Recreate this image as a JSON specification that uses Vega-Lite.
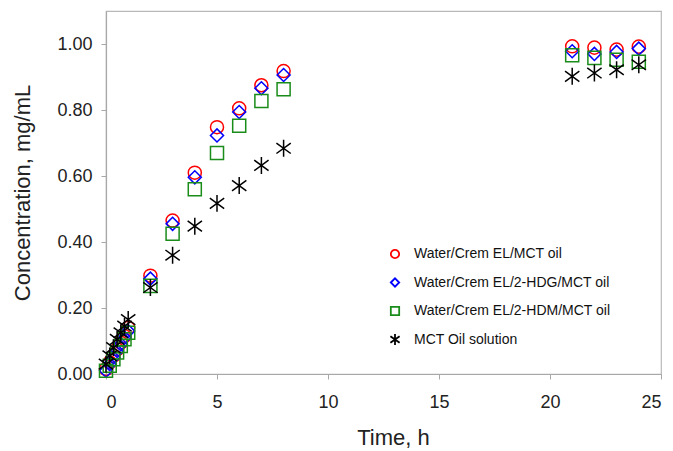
{
  "$schema": "https://vega.github.io/schema/vega-lite/v6.json",
  "autosize": "none",
  "width": 555,
  "height": 363,
  "padding": {"left": 106, "top": 11, "right": 12, "bottom": 77},
  "background": "white",
  "config": {
    "font": "Liberation Sans",
    "view": {"stroke": "#b8b8b8", "strokeWidth": 1.2},
    "axis": {
      "grid": false,
      "domainColor": "#a8a8a8",
      "domainWidth": 1.2,
      "tickColor": "#a8a8a8",
      "tickSize": 5,
      "labelFont": "Liberation Sans",
      "labelFontSize": 18,
      "labelColor": "#222222",
      "titleFont": "Liberation Sans",
      "titleFontSize": 22,
      "titleFontWeight": "normal",
      "titleColor": "#222222"
    }
  },
  "data": {
    "values": [
      {"t": 0, "c": 0.015, "s": "Water/Crem EL/MCT oil"},
      {"t": 0.167, "c": 0.035, "s": "Water/Crem EL/MCT oil"},
      {"t": 0.333, "c": 0.055, "s": "Water/Crem EL/MCT oil"},
      {"t": 0.5, "c": 0.075, "s": "Water/Crem EL/MCT oil"},
      {"t": 0.667, "c": 0.095, "s": "Water/Crem EL/MCT oil"},
      {"t": 0.833, "c": 0.115, "s": "Water/Crem EL/MCT oil"},
      {"t": 1, "c": 0.14, "s": "Water/Crem EL/MCT oil"},
      {"t": 2, "c": 0.298, "s": "Water/Crem EL/MCT oil"},
      {"t": 3, "c": 0.465, "s": "Water/Crem EL/MCT oil"},
      {"t": 4, "c": 0.61, "s": "Water/Crem EL/MCT oil"},
      {"t": 5, "c": 0.748, "s": "Water/Crem EL/MCT oil"},
      {"t": 6, "c": 0.805, "s": "Water/Crem EL/MCT oil"},
      {"t": 7, "c": 0.875, "s": "Water/Crem EL/MCT oil"},
      {"t": 8, "c": 0.918, "s": "Water/Crem EL/MCT oil"},
      {"t": 21, "c": 0.993, "s": "Water/Crem EL/MCT oil"},
      {"t": 22, "c": 0.989, "s": "Water/Crem EL/MCT oil"},
      {"t": 23, "c": 0.983, "s": "Water/Crem EL/MCT oil"},
      {"t": 24, "c": 0.992, "s": "Water/Crem EL/MCT oil"},
      {"t": 0, "c": 0.01, "s": "Water/Crem EL/2-HDG/MCT oil"},
      {"t": 0.167, "c": 0.03, "s": "Water/Crem EL/2-HDG/MCT oil"},
      {"t": 0.333, "c": 0.05, "s": "Water/Crem EL/2-HDG/MCT oil"},
      {"t": 0.5, "c": 0.07, "s": "Water/Crem EL/2-HDG/MCT oil"},
      {"t": 0.667, "c": 0.09, "s": "Water/Crem EL/2-HDG/MCT oil"},
      {"t": 0.833, "c": 0.11, "s": "Water/Crem EL/2-HDG/MCT oil"},
      {"t": 1, "c": 0.13, "s": "Water/Crem EL/2-HDG/MCT oil"},
      {"t": 2, "c": 0.289, "s": "Water/Crem EL/2-HDG/MCT oil"},
      {"t": 3, "c": 0.455, "s": "Water/Crem EL/2-HDG/MCT oil"},
      {"t": 4, "c": 0.596, "s": "Water/Crem EL/2-HDG/MCT oil"},
      {"t": 5, "c": 0.723, "s": "Water/Crem EL/2-HDG/MCT oil"},
      {"t": 6, "c": 0.794, "s": "Water/Crem EL/2-HDG/MCT oil"},
      {"t": 7, "c": 0.866, "s": "Water/Crem EL/2-HDG/MCT oil"},
      {"t": 8, "c": 0.906, "s": "Water/Crem EL/2-HDG/MCT oil"},
      {"t": 21, "c": 0.978, "s": "Water/Crem EL/2-HDG/MCT oil"},
      {"t": 22, "c": 0.97, "s": "Water/Crem EL/2-HDG/MCT oil"},
      {"t": 23, "c": 0.976, "s": "Water/Crem EL/2-HDG/MCT oil"},
      {"t": 24, "c": 0.986, "s": "Water/Crem EL/2-HDG/MCT oil"},
      {"t": 0, "c": 0.01, "s": "Water/Crem EL/2-HDM/MCT oil"},
      {"t": 0.167, "c": 0.025, "s": "Water/Crem EL/2-HDM/MCT oil"},
      {"t": 0.333, "c": 0.045, "s": "Water/Crem EL/2-HDM/MCT oil"},
      {"t": 0.5, "c": 0.065, "s": "Water/Crem EL/2-HDM/MCT oil"},
      {"t": 0.667, "c": 0.085, "s": "Water/Crem EL/2-HDM/MCT oil"},
      {"t": 0.833, "c": 0.105, "s": "Water/Crem EL/2-HDM/MCT oil"},
      {"t": 1, "c": 0.125, "s": "Water/Crem EL/2-HDM/MCT oil"},
      {"t": 2, "c": 0.267, "s": "Water/Crem EL/2-HDM/MCT oil"},
      {"t": 3, "c": 0.425, "s": "Water/Crem EL/2-HDM/MCT oil"},
      {"t": 4, "c": 0.56, "s": "Water/Crem EL/2-HDM/MCT oil"},
      {"t": 5, "c": 0.67, "s": "Water/Crem EL/2-HDM/MCT oil"},
      {"t": 6, "c": 0.752, "s": "Water/Crem EL/2-HDM/MCT oil"},
      {"t": 7, "c": 0.827, "s": "Water/Crem EL/2-HDM/MCT oil"},
      {"t": 8, "c": 0.863, "s": "Water/Crem EL/2-HDM/MCT oil"},
      {"t": 21, "c": 0.966, "s": "Water/Crem EL/2-HDM/MCT oil"},
      {"t": 22, "c": 0.958, "s": "Water/Crem EL/2-HDM/MCT oil"},
      {"t": 23, "c": 0.952, "s": "Water/Crem EL/2-HDM/MCT oil"},
      {"t": 24, "c": 0.946, "s": "Water/Crem EL/2-HDM/MCT oil"},
      {"t": 0, "c": 0.03, "s": "MCT Oil solution"},
      {"t": 0.167, "c": 0.055, "s": "MCT Oil solution"},
      {"t": 0.333, "c": 0.08, "s": "MCT Oil solution"},
      {"t": 0.5, "c": 0.105, "s": "MCT Oil solution"},
      {"t": 0.667, "c": 0.125, "s": "MCT Oil solution"},
      {"t": 0.833, "c": 0.145, "s": "MCT Oil solution"},
      {"t": 1, "c": 0.165, "s": "MCT Oil solution"},
      {"t": 2, "c": 0.262, "s": "MCT Oil solution"},
      {"t": 3, "c": 0.36, "s": "MCT Oil solution"},
      {"t": 4, "c": 0.448, "s": "MCT Oil solution"},
      {"t": 5, "c": 0.517, "s": "MCT Oil solution"},
      {"t": 6, "c": 0.571, "s": "MCT Oil solution"},
      {"t": 7, "c": 0.632, "s": "MCT Oil solution"},
      {"t": 8, "c": 0.684, "s": "MCT Oil solution"},
      {"t": 21, "c": 0.902, "s": "MCT Oil solution"},
      {"t": 22, "c": 0.912, "s": "MCT Oil solution"},
      {"t": 23, "c": 0.922, "s": "MCT Oil solution"},
      {"t": 24, "c": 0.937, "s": "MCT Oil solution"}
    ]
  },
  "mark": {"type": "point", "filled": false, "strokeWidth": 1.5, "opacity": 1, "size": 170},
  "encoding": {
    "x": {
      "field": "t", "type": "quantitative",
      "scale": {"domain": [0, 25], "nice": false, "zero": false},
      "axis": {"title": "Time, h", "values": [0, 5, 10, 15, 20, 25], "labelPadding": 14, "titlePadding": 16, "titleX": 287}
    },
    "y": {
      "field": "c", "type": "quantitative",
      "scale": {"domain": [0, 1.1], "nice": false},
      "axis": {"title": "Concentration, mg/mL", "values": [0, 0.2, 0.4, 0.6, 0.8, 1.0], "format": ".2f", "labelPadding": 9, "titlePadding": 22}
    },
    "color": {
      "field": "s", "type": "nominal",
      "scale": {
        "domain": ["Water/Crem EL/MCT oil", "Water/Crem EL/2-HDG/MCT oil", "Water/Crem EL/2-HDM/MCT oil", "MCT Oil solution"],
        "range": ["#ff0000", "#0000ff", "#1a8c1a", "#000000"]
      },
      "legend": {
        "title": null,
        "orient": "none",
        "legendX": 282,
        "legendY": 236,
        "padding": 0,
        "labelFont": "Liberation Sans",
        "labelFontSize": 14,
        "labelColor": "#111111",
        "labelLimit": 400,
        "labelOffset": 12,
        "clipHeight": 14,
        "rowPadding": 14.5,
        "symbolSize": 70,
        "symbolStrokeWidth": 1.8
      }
    },
    "shape": {
      "field": "s", "type": "nominal",
      "scale": {
        "domain": ["Water/Crem EL/MCT oil", "Water/Crem EL/2-HDG/MCT oil", "Water/Crem EL/2-HDM/MCT oil", "MCT Oil solution"],
        "range": ["circle", "diamond", "square", "M0,-1.3L0,1.3M-1.1,-0.8L1.1,0.8M-1.1,0.8L1.1,-0.8"]
      },
      "legend": {
        "title": null,
        "orient": "none",
        "legendX": 282,
        "legendY": 236,
        "padding": 0,
        "labelFont": "Liberation Sans",
        "labelFontSize": 14,
        "labelColor": "#111111",
        "labelLimit": 400,
        "labelOffset": 12,
        "clipHeight": 14,
        "rowPadding": 14.5,
        "symbolSize": 70,
        "symbolStrokeWidth": 1.8
      }
    }
  }
}
